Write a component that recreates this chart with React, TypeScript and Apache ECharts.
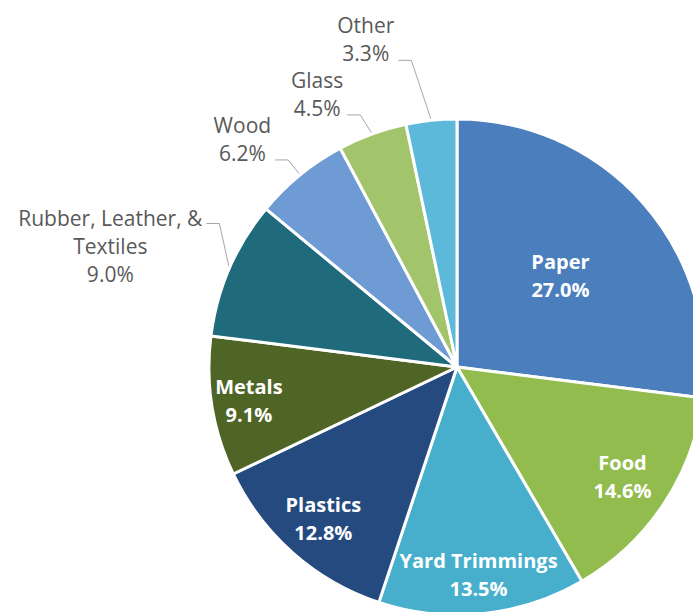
import React, { useEffect, useRef } from "react";
import * as echarts from "echarts";

const categories = [
  "Paper",
  "Food",
  "Yard Trimmings",
  "Plastics",
  "Metals",
  "Rubber, Leather, &\nTextiles",
  "Wood",
  "Glass",
  "Other",
];
const values = [27.0, 14.6, 13.5, 12.8, 9.1, 9.0, 6.2, 4.5, 3.3];
const colors = [
  "#4a7ebd",
  "#93bc4e",
  "#47afcc",
  "#244a80",
  "#4f6526",
  "#1f6b7b",
  "#6f9bd5",
  "#a2c46a",
  "#5cb9d9",
];
const outsideIdx = [5, 6, 7, 8];

export default function App() {
  const ref = useRef<HTMLDivElement>(null);
  useEffect(() => {
    if (!ref.current) return;
    const chart = echarts.init(ref.current, null, { renderer: "svg" });
    const CX = 457;
    const CY = 367;
    const R = 248;
    const total = values.reduce((a, b) => a + b, 0);
    const mids: number[] = [];
    let acc = 0;
    values.forEach((v) => {
      mids.push(((acc + v / 2) / total) * 2 * Math.PI);
      acc += v;
    });
    const insideFrac: Record<number, number> = { 0: 0.556, 1: 0.8, 2: 0.84, 3: 0.815, 4: 0.85 };
    const elbow: Record<number, number[]> = {
      5: [-10, -45],
      6: [-12, -15],
      7: [-12, -19],
      8: [-20, -60],
    };
    const font = "'Open Sans', 'Noto Sans', sans-serif";
    chart.setOption({
      animation: false,
      backgroundColor: "#ffffff",
      series: [
        {
          type: "pie",
          center: [CX, CY],
          radius: [0, R],
          startAngle: 90,
          clockwise: true,
          avoidLabelOverlap: false,
          itemStyle: { borderColor: "#ffffff", borderWidth: 3 },
          label: {
            show: true,
            position: "inside",
            color: "#ffffff",
            fontWeight: "bold",
            fontSize: 20,
            lineHeight: 28,
            fontFamily: font,
            formatter: (p: any) => `${p.name}\n${Number(p.value).toFixed(1)}%`,
          },
          labelLine: { show: false },
          labelLayout: (p: any) => {
            const i = p.dataIndex;
            const a = mids[i];
            const s = Math.sin(a);
            const c = Math.cos(a);
            if (insideFrac[i] !== undefined) {
              const f = insideFrac[i];
              return { x: CX + f * R * s, y: CY - f * R * c, align: "center", verticalAlign: "middle" };
            }
            const ex = CX + R * s;
            const ey = CY - R * c;
            const [dx, dy] = elbow[i];
            const bx = ex + dx;
            const by = ey + dy;
            const hx = bx - 13;
            const w = p.labelRect.width;
            const top = i === 5;
            return {
              x: hx - 4 - w / 2,
              y: top ? by - 20 : by + 7,
              align: "center",
              verticalAlign: top ? "top" : "bottom",
              labelLinePoints: [
                [ex, ey],
                [bx, by],
                [hx, by],
              ],
            };
          },
          data: categories.map((name, i) => {
            const item: any = { name, value: values[i], itemStyle: { color: colors[i] } };
            if (outsideIdx.includes(i)) {
              item.label = {
                position: "outside",
                color: "#595959",
                fontWeight: "normal",
                fontSize: 21,
                lineHeight: 28,
                align: "center",
              };
              item.labelLine = { show: true, lineStyle: { color: "#a6a6a6", width: 1 } };
            }
            return item;
          }),
        },
      ],
    });
    return () => chart.dispose();
  }, []);
  return (
    <div
      ref={ref}
      style={{ position: "fixed", left: 0, top: 0, width: 693, height: 612, background: "#fff" }}
    />
  );
}
